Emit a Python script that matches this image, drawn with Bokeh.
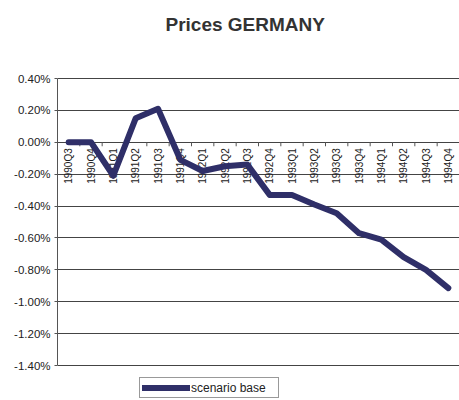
import math
from bokeh.plotting import figure
from bokeh.models import (Range1d, FixedTicker, PrintfTickFormatter, Legend, LegendItem,
                          ColumnDataSource, Label)
from bokeh.core.properties import value
from bokeh.embed import file_html
from bokeh.resources import INLINE

quarters = ["1990Q3", "1990Q4", "1991Q1", "1991Q2", "1991Q3", "1991Q4",
            "1992Q1", "1992Q2", "1992Q3", "1992Q4", "1993Q1", "1993Q2",
            "1993Q3", "1993Q4", "1994Q1", "1994Q2", "1994Q3", "1994Q4"]
scenario_base = [0.00, 0.00, -0.21, 0.15, 0.21, -0.11,
                 -0.18, -0.15, -0.14, -0.33, -0.33, -0.39,
                 -0.445, -0.57, -0.61, -0.72, -0.80, -0.915]
y_ticks = [0.4, 0.2, 0.0, -0.2, -0.4, -0.6, -0.8, -1.0, -1.2, -1.4]
series_name = "scenario base"
title_text = "Prices GERMANY"

FONT = "Liberation Sans"
n = len(quarters)
xs = [i + 0.5 for i in range(n)]

# layout (pixels): the frame spans the full height; the axis area sits inside it
H, W = 400, 459
PAD_TOP, PAD_BOTTOM = 78, 35
ymin, ymax = min(y_ticks), max(y_ticks)
upp = (ymax - ymin) / (H - PAD_TOP - PAD_BOTTOM)
y_range = Range1d(ymin - PAD_BOTTOM * upp, ymax + PAD_TOP * upp)

p = figure(width=W, height=H, output_backend="svg", toolbar_location=None,
           x_range=Range1d(0, n), y_range=y_range,
           min_border_left=57, min_border_right=0, min_border_top=0, min_border_bottom=0)
p.title.visible = False

p.outline_line_color = None
p.background_fill_color = "white"
p.border_fill_color = "white"

p.xaxis.visible = False
p.xgrid.visible = False

p.yaxis.bounds = (ymin, ymax)
p.yaxis.ticker = FixedTicker(ticks=y_ticks)
p.yaxis.formatter = PrintfTickFormatter(format="%.2f%%")
p.yaxis.major_label_text_font = FONT
p.yaxis.major_label_text_font_size = "11.5px"
p.yaxis.major_label_text_color = "#222222"
p.yaxis.axis_line_color = "#555555"
p.yaxis.major_tick_line_color = "#555555"
p.yaxis.major_tick_out = 3
p.yaxis.major_tick_in = 0
p.yaxis.minor_tick_line_color = None
p.yaxis.major_label_standoff = 4

p.ygrid.ticker = FixedTicker(ticks=y_ticks)
p.ygrid.grid_line_color = "#444444"
p.ygrid.grid_line_width = 1

# category tick marks on the zero line (between categories)
bounds = list(range(1, n + 1))
p.ray(x=bounds, y=[0] * len(bounds), length=4, length_units="screen",
      angle=-math.pi / 2, line_color="#555555", line_width=1)

# category labels hanging under the zero line
src = ColumnDataSource(dict(x=xs, y=[0] * n, t=quarters))
p.text(x="x", y="y", text="t", source=src, angle=math.pi / 2,
       text_align="right", text_baseline="middle", y_offset=6,
       text_font=value(FONT), text_font_size="10px", text_color="#222222")

r = p.line(xs, scenario_base, line_color="#2f2f68", line_width=6,
           line_cap="round", line_join="round")

title = Label(x=108, y=H - 24, x_units="screen", y_units="screen", text=title_text,
              text_font=FONT, text_font_size="19px", text_font_style="bold",
              text_color="#333333", text_align="left", text_baseline="alphabetic")
p.add_layout(title)

legend = Legend(items=[LegendItem(label=series_name, renderers=[r])],
                location=(82, 2), orientation="horizontal",
                glyph_width=48, glyph_height=15, label_height=15, label_width=85,
                label_standoff=1, padding=2, margin=0, spacing=0,
                label_text_font=FONT, label_text_font_size="12px",
                label_text_color="#222222",
                border_line_color="#333333", border_line_width=1,
                background_fill_color="white", background_fill_alpha=1)
p.add_layout(legend)

open("out.html", "w").write(file_html(p, INLINE))
